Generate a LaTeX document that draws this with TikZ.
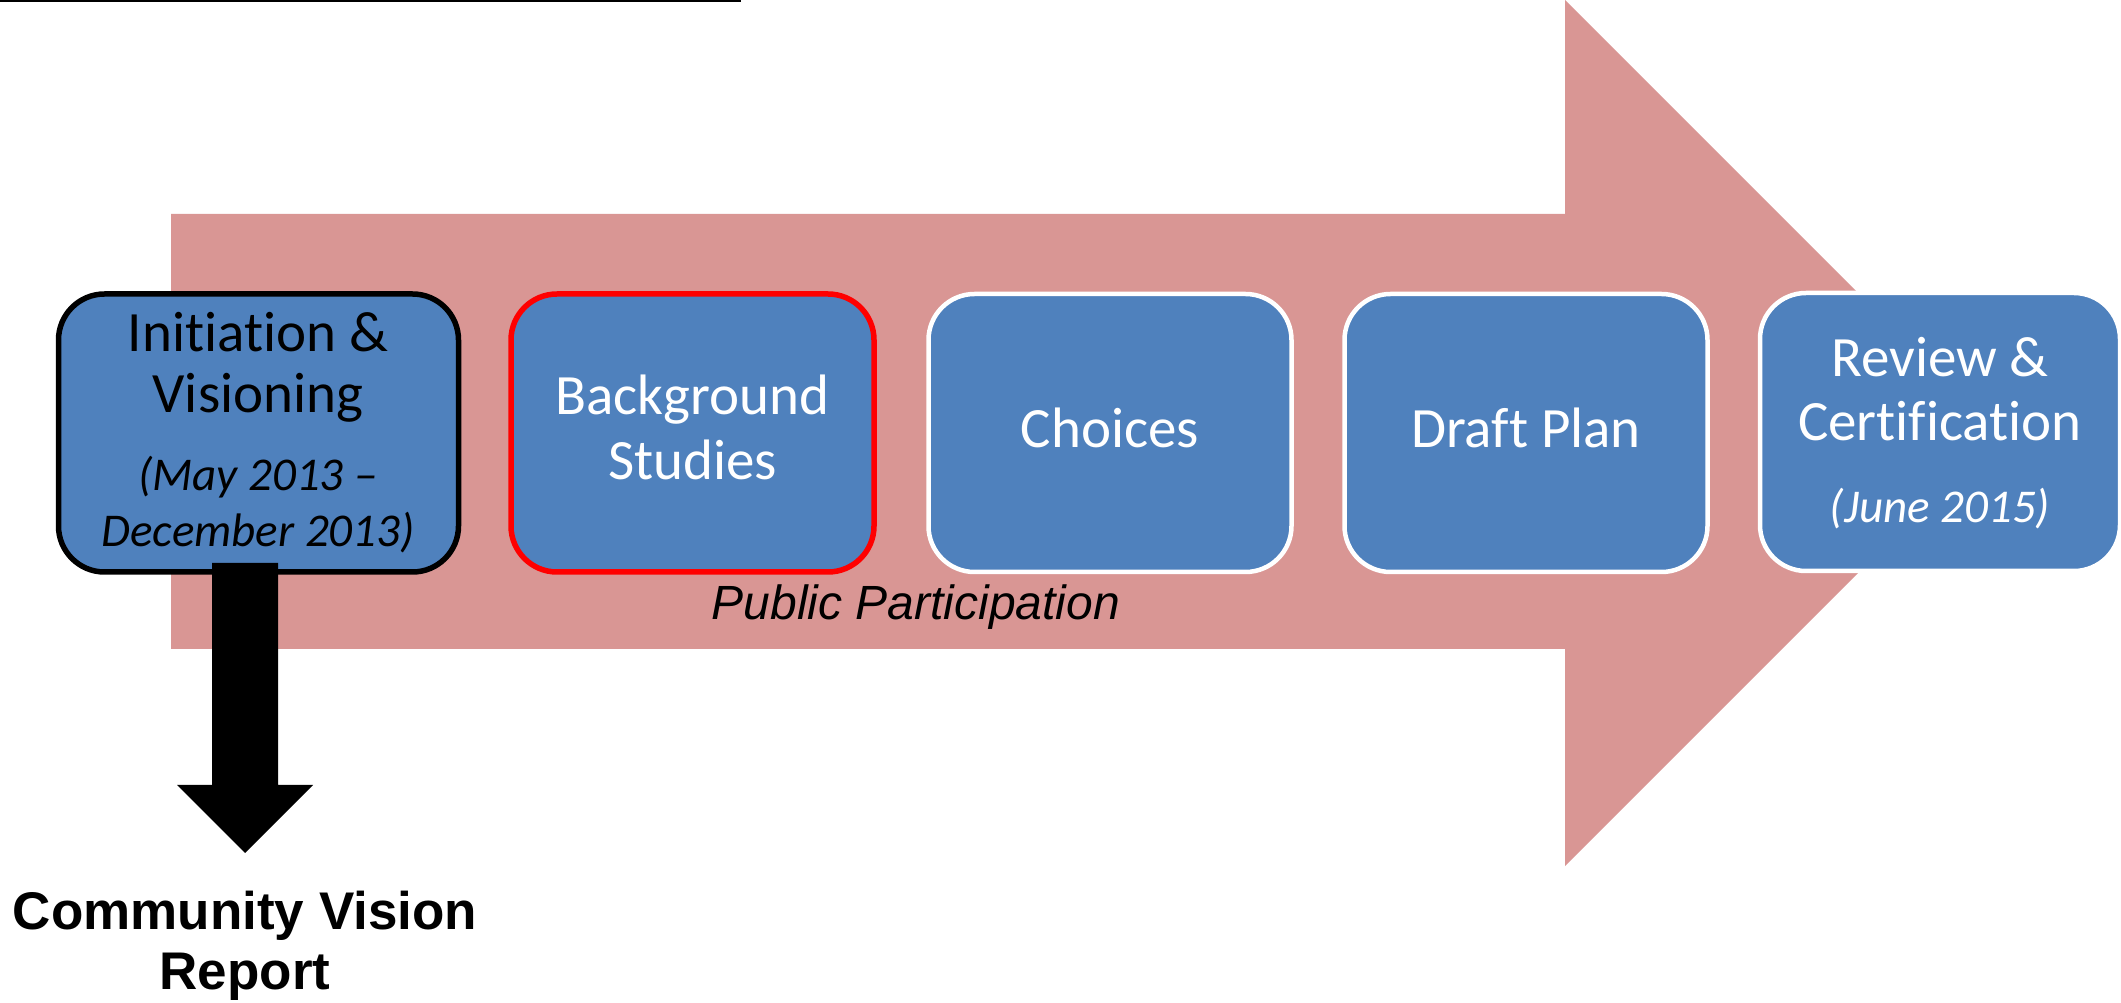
\documentclass[tikz,border=0pt]{standalone}
\usepackage{fontspec}
\setmainfont[RawFeature={-liga;-clig;-dlig;-calt}]{Carlito}
\newfontfamily\arialf{Liberation Sans}
\definecolor{pinkc}{HTML}{D99694}
\definecolor{bluec}{HTML}{4F81BD}
\definecolor{redc}{HTML}{FF0000}
\begin{document}
\begin{tikzpicture}[x=1pt,y=1pt,
  stagebox/.style={rounded corners=46pt, fill=bluec, draw=white, line width=4.5pt,
    minimum width=363pt, minimum height=278pt, inner sep=0pt},
  bigtxt/.style={anchor=base, inner sep=0pt, text=white, font=\fontsize{57}{64}\selectfont},
  datetxt/.style={anchor=base, inner sep=0pt, text=white, font=\fontsize{47}{55}\selectfont\itshape},
  armtxt/.style={anchor=base, inner sep=0pt, font=\arialf\fontsize{48}{58}\selectfont}]
\useasboundingbox (0,0) rectangle (2121,1002);
% top rule
\coordinate (tl1) at (0,1001);
\coordinate (tl2) at (741,1001);
\draw[line width=2pt] (tl1) -- (tl2);
% big pink arrow
\fill[pinkc] (171,788) -- (1565,788) -- (1565,1002) -- (1998,569) -- (1565,136)
  -- (1565,353) -- (171,353) -- cycle;
% stage boxes
\node[stagebox, draw=black, line width=5.5pt, minimum width=400pt] (b1) at (258.5,569) {};
\node[stagebox, draw=redc, line width=5.5pt] (b2) at (692.5,569) {};
\node[stagebox] (b3) at (1110,569) {};
\node[stagebox] (b4) at (1526,569) {};
\node[stagebox, minimum width=360pt] (b5) at (1940,570) {};
% texts
\node[bigtxt, text=black] (t1a) at (258,650) {Initiation \&};
\node[bigtxt, text=black] (t1b) at (258,589) {Visioning};
\node[datetxt, text=black] (t1c) at (258,511) {(May 2013 –};
\node[datetxt, text=black] (t1d) at (258,455) {December 2013)};
\node[bigtxt] (t2a) at (692.5,587) {Background};
\node[bigtxt] (t2b) at (692.5,522) {Studies};
\node[bigtxt] (t3) at (1110,554) {Choices};
\node[bigtxt] (t4) at (1526,554) {Draft Plan};
\node[bigtxt] (t5a) at (1940,625) {Review \&};
\node[bigtxt] (t5b) at (1940,561) {Certification};
\node[datetxt] (t5c) at (1940,479) {(June 2015)};
\node[armtxt, font=\arialf\itshape\fontsize{48}{58}\selectfont] (pp) at (916,382) {Public Participation};
% black block arrow down
\fill[black] (212,439) -- (278,439) -- (278,217) -- (313,217) -- (245,149)
  -- (177,217) -- (212,217) -- cycle;
\node[armtxt, font=\arialf\bfseries\fontsize{53}{62}\selectfont] (cv1) at (245,73) {Community Vision};
\node[armtxt, font=\arialf\bfseries\fontsize{53}{62}\selectfont] (cv2) at (245,13) {Report};
\end{tikzpicture}
\end{document}
